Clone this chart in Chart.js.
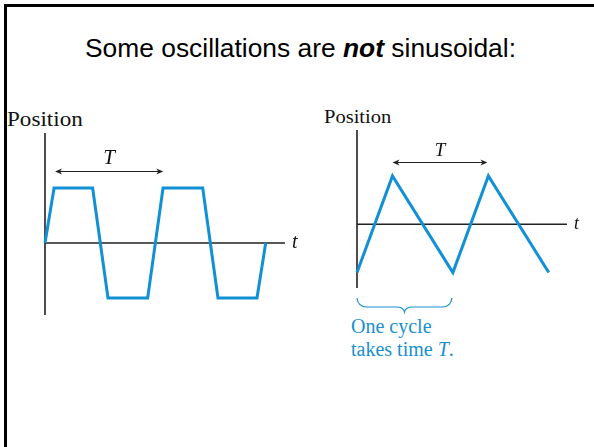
<!DOCTYPE html>
<html>
<head>
<meta charset="utf-8">
<script src="https://cdn.jsdelivr.net/npm/chart.js@4.4.1/dist/chart.umd.min.js"></script>
<style>
html, body { margin: 0; padding: 0; background: #fff; }
body { width: 594px; height: 447px; position: relative; overflow: hidden; }
.frame { position: absolute; left: 4px; top: 4px; width: 620px; height: 480px;
         border-left: 3px solid #000; border-top: 3px solid #000; }
.title { position: absolute; left: 85px; top: 34px; font: 25px "Liberation Sans", Arial, sans-serif;
         color: #000; white-space: nowrap; transform: scaleX(1.055); transform-origin: 0 0; }
.pos { position: absolute; font-family: "Liberation Serif", "Times New Roman", serif; color: #111;
       white-space: nowrap; transform-origin: 0 0; }
.caption { position: absolute; left: 351px; top: 315px; font: 20px/23px "Liberation Serif", "Times New Roman", serif;
           color: #1a8fcf; white-space: nowrap; }
canvas { position: absolute; }
</style>
</head>
<body>
<div class="frame"></div>
<div class="title">Some oscillations are <b><i>not</i></b> sinusoidal:</div>
<div class="pos" style="left:7px;top:107px;font-size:21px;transform:scaleX(1.1);">Position</div>
<div class="pos" style="left:324px;top:106px;font-size:19px;transform:scaleX(1.08);">Position</div>
<div class="caption">One cycle<br>takes time <i>T</i>.</div>

<canvas id="squareChart" style="left:25px;top:113px;" width="290" height="222"></canvas>
<canvas id="triChart" style="left:337px;top:110px;" width="250" height="208"></canvas>

<script>
// left graph: flat-topped wave (time in periods, position in amplitudes)
var squareTime = [0, 0.083, 0.437, 0.578, 0.942, 1.083, 1.447, 1.587, 1.945, 2.025];
var squarePos  = [0, 1, 1, -1, -1, 1, 1, -1, -1, 0];
var squareAxisX = [0, 2.202];
var squareAxisY = [-1.31, 2.0];
var squareArrow = [0.092, 1.085, 1.31];   // from, to, height

// right graph: sawtooth-like triangle wave
var triTime = [0, 0.37, 1.0, 1.37, 2.0];
var triPos  = [-1, 1, -1, 1, -1];
var triAxisX = [0, 2.19];
var triAxisY = [-1.32, 1.95];
var triArrow = [0.37, 1.36, 1.296];
var triBrace = [0, 0.99];

var blue = '#1190d6';

function toPoints(xs, ys) {
    return xs.map(function (v, i) { return { x: v, y: ys[i] }; });
}

var sketchPlugin = {
    id: 'sketch',
    beforeDatasetsDraw: function (chart, args, opts) {
        var ctx = chart.ctx, sx = chart.scales.x, sy = chart.scales.y;
        ctx.save();
        ctx.strokeStyle = '#222';
        ctx.lineWidth = 1.6;
        ctx.beginPath();
        ctx.moveTo(sx.getPixelForValue(0), sy.getPixelForValue(opts.axisY[0]));
        ctx.lineTo(sx.getPixelForValue(0), sy.getPixelForValue(opts.axisY[1]));
        ctx.moveTo(sx.getPixelForValue(opts.axisX[0]), sy.getPixelForValue(0));
        ctx.lineTo(sx.getPixelForValue(opts.axisX[1]), sy.getPixelForValue(0));
        ctx.stroke();
        ctx.restore();
    },
    afterDatasetsDraw: function (chart, args, opts) {
        var ctx = chart.ctx, sx = chart.scales.x, sy = chart.scales.y;
        ctx.save();
        // period arrow
        var x0 = sx.getPixelForValue(opts.arrow[0]);
        var x1 = sx.getPixelForValue(opts.arrow[1]);
        var ay = Math.round(sy.getPixelForValue(opts.arrow[2])) + 0.5;
        ctx.strokeStyle = '#222';
        ctx.fillStyle = '#222';
        ctx.lineWidth = 1;
        ctx.beginPath();
        ctx.moveTo(x0 + 2, ay);
        ctx.lineTo(x1 - 2, ay);
        ctx.stroke();
        [[x0, 1], [x1, -1]].forEach(function (h) {
            ctx.beginPath();
            ctx.moveTo(h[0], ay);
            ctx.lineTo(h[0] + h[1] * 7, ay - 3);
            ctx.lineTo(h[0] + h[1] * 5, ay);
            ctx.lineTo(h[0] + h[1] * 7, ay + 3);
            ctx.closePath();
            ctx.fill();
        });
        ctx.font = 'italic ' + opts.bigFont + 'px "Liberation Serif", "Times New Roman", serif';
        ctx.textAlign = 'center';
        ctx.textBaseline = 'alphabetic';
        ctx.fillStyle = '#111';
        ctx.fillText('T', (x0 + x1) / 2, ay - opts.labelGap);
        // t label at the end of the time axis
        ctx.font = 'italic ' + opts.smallFont + 'px "Liberation Serif", "Times New Roman", serif';
        ctx.textAlign = 'left';
        ctx.fillText('t', sx.getPixelForValue(opts.axisX[1]) + 7, sy.getPixelForValue(0) + 5);
        // brace under one cycle
        if (opts.brace) {
            var b0 = sx.getPixelForValue(opts.brace[0]);
            var b1 = sx.getPixelForValue(opts.brace[1]);
            var mid = (b0 + b1) / 2;
            var t = chart.chartArea.bottom + 10;
            ctx.strokeStyle = '#1a8fcf';
            ctx.lineWidth = 1.2;
            ctx.beginPath();
            ctx.moveTo(b0, t);
            ctx.quadraticCurveTo(b0 + 1, t + 9, b0 + 10, t + 9);
            ctx.lineTo(mid - 8, t + 9);
            ctx.quadraticCurveTo(mid - 1, t + 9, mid, t + 14);
            ctx.quadraticCurveTo(mid + 1, t + 9, mid + 8, t + 9);
            ctx.lineTo(b1 - 10, t + 9);
            ctx.quadraticCurveTo(b1 - 1, t + 9, b1, t);
            ctx.stroke();
        }
        ctx.restore();
    }
};

function makeChart(id, xs, ys, axisX, axisY, padding, sketch) {
    sketch.axisX = axisX;
    sketch.axisY = axisY;
    return new Chart(document.getElementById(id).getContext('2d'), {
        type: 'scatter',
        data: {
            datasets: [{
                data: toPoints(xs, ys),
                showLine: true,
                borderColor: blue,
                borderWidth: 3,
                borderJoinStyle: 'miter',
                pointRadius: 0,
                tension: 0,
                clip: false
            }]
        },
        options: {
            responsive: false,
            animation: false,
            layout: { padding: padding },
            plugins: { legend: { display: false }, tooltip: { enabled: false }, sketch: sketch },
            scales: {
                x: { type: 'linear', display: false, min: axisX[0], max: axisX[1] },
                y: { type: 'linear', display: false, min: axisY[0], max: axisY[1] }
            }
        },
        plugins: [sketchPlugin]
    });
}

makeChart('squareChart', squareTime, squarePos, squareAxisX, squareAxisY,
    { left: 20, right: 30, top: 20, bottom: 20 },
    { arrow: squareArrow, bigFont: 21, smallFont: 20, labelGap: 8 });

makeChart('triChart', triTime, triPos, triAxisX, triAxisY,
    { left: 20, right: 20, top: 20, bottom: 30 },
    { arrow: triArrow, bigFont: 19, smallFont: 18, labelGap: 7, brace: triBrace });
</script>
</body>
</html>
